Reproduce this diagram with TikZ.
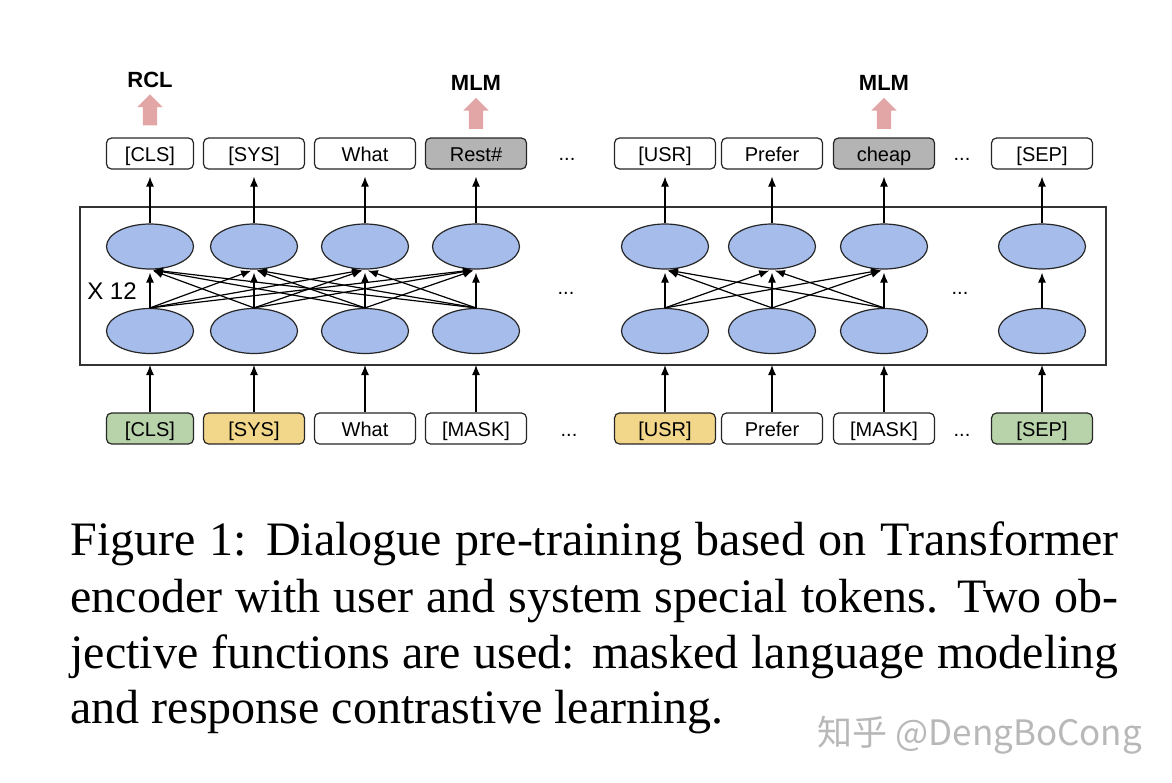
\documentclass[tikz,border=0pt]{standalone}
\usepackage{fontspec}
\setmainfont{Liberation Serif}
\setsansfont{Liberation Sans}
\newfontfamily\cjkfont{Noto Sans CJK SC}
\usetikzlibrary{arrows.meta,shapes.geometric,shapes.arrows}

\definecolor{cellblue}{RGB}{166,189,236}
\definecolor{clsgreen}{RGB}{184,210,170}
\definecolor{spkyellow}{RGB}{242,214,138}
\definecolor{maskgrey}{RGB}{180,180,180}
\definecolor{objpink}{RGB}{226,166,166}

\tikzset{
  token/.style={draw=black!85,fill=white,rounded corners=5pt,minimum width=101pt,
    minimum height=31pt,inner sep=0pt,text height=21pt,text depth=4.7pt,
    font=\sffamily\fontsize{20}{24}\selectfont},
  cell/.style={ellipse,draw=black!85,fill=cellblue,minimum width=87pt,
    minimum height=45pt,inner sep=0pt},
  objarrow/.style={single arrow,draw=none,fill=objpink,shape border rotate=90,
    minimum height=31pt,minimum width=24pt,single arrow head extend=5.5pt,inner sep=6.5pt},
  objective/.style={font=\sffamily\bfseries\fontsize{22}{26}\selectfont},
  gap/.style={font=\sffamily\fontsize{20}{24}\selectfont},
  frame/.style={draw=black!80,line width=1.3pt},
  caption/.style={anchor=base west,inner sep=0pt,font=\fontsize{48}{56}\selectfont}
}

\begin{document}
\begin{tikzpicture}[x=1pt,y=-1pt,>={Latex[length=10pt,width=8pt]},line width=1.2pt]
\useasboundingbox (0,0) rectangle (1172,782);

% encoder block
\coordinate (frameNW) at (80,207);
\coordinate (frameSE) at (1106,365);
\draw[frame] (frameNW) rectangle (frameSE);
\node[font=\sffamily\fontsize{24}{28}\selectfont] (layers) at (112,291.5) {X 12};

% input tokens
\node[token,fill=clsgreen,minimum width=87pt] (in1) at (150,428.5) {[CLS]};
\node[token,fill=spkyellow] (in2) at (254,428.5) {[SYS]};
\node[token] (in3) at (365,428.5) {What};
\node[token] (in4) at (476,428.5) {[MASK]};
\node[token,fill=spkyellow] (in5) at (665,428.5) {[USR]};
\node[token] (in6) at (772,428.5) {Prefer};
\node[token] (in7) at (884,428.5) {[MASK]};
\node[token,fill=clsgreen] (in8) at (1042,428.5) {[SEP]};

% output tokens
\node[token,minimum width=87pt] (out1) at (150,153.5) {[CLS]};
\node[token] (out2) at (254,153.5) {[SYS]};
\node[token] (out3) at (365,153.5) {What};
\node[token,fill=maskgrey] (out4) at (476,153.5) {Rest\#};
\node[token] (out5) at (665,153.5) {[USR]};
\node[token] (out6) at (772,153.5) {Prefer};
\node[token,fill=maskgrey] (out7) at (884,153.5) {cheap};
\node[token] (out8) at (1042,153.5) {[SEP]};

% hidden states
\foreach \i/\x in {1/150,2/254,3/365,4/476,5/665,6/772,7/884,8/1042} {
  \node[cell] (lo\i) at (\x,331) {};
  \node[cell] (hi\i) at (\x,246.5) {};
  \draw[->] (in\i.north) -- (in\i.north |- frameSE);
  \draw[->,shorten >=7pt] (hi\i) -- (out\i);
}
\foreach \i in {1,...,4} \foreach \j in {1,...,4}
  \draw[->,shorten >=3pt] (lo\i.north) -- (hi\j.south);
\foreach \i in {5,...,7} \foreach \j in {5,...,7}
  \draw[->,shorten >=3pt] (lo\i.north) -- (hi\j.south);
\draw[->,shorten >=3pt] (lo8.north) -- (hi8.south);

% skipped positions
\node[gap] (gapTopA) at (567,159) {...};
\node[gap] (gapMidA) at (566,293) {...};
\node[gap] (gapBotA) at (569,435) {...};
\node[gap] (gapTopB) at (962,159) {...};
\node[gap] (gapMidB) at (960,293) {...};
\node[gap] (gapBotB) at (962,435) {...};

% objectives
\node[objarrow] (rclup) at (150,113.5) {};
\node[objarrow] (mlmupA) at (476,117) {};
\node[objarrow] (mlmupB) at (884,117) {};
\node[objective] (rcl) at (150,79.5) {RCL};
\node[objective] (mlmA) at (476,83) {MLM};
\node[objective] (mlmB) at (884,83) {MLM};

% caption
\node[caption] (cap1) at (70,555) {\makebox[1048pt][s]{Figure 1: Dialogue pre-training based on Transformer}};
\node[caption] (cap2) at (70,612) {\makebox[1048pt][s]{encoder with user and system special tokens. Two ob-}};
\node[caption] (cap3) at (70,668) {\makebox[1048pt][s]{jective functions are used: masked language modeling}};
\node[caption] (cap4) at (70,723) {and response contrastive learning.};
\node[anchor=base west,inner sep=0pt,text=black!28,font=\cjkfont\fontsize{35}{40}\selectfont]
  (mark) at (817,745) {知乎 @DengBoCong};
\end{tikzpicture}
\end{document}
